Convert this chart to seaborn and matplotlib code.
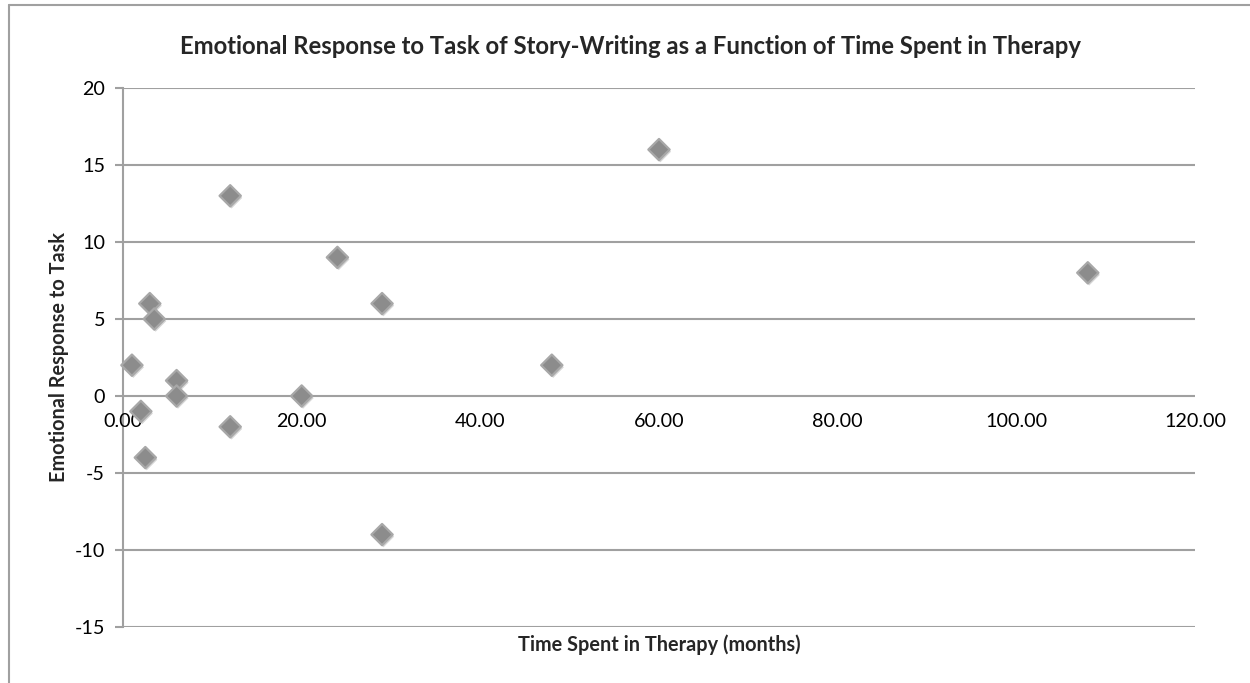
import matplotlib
matplotlib.use("Agg")
import matplotlib.pyplot as plt
import matplotlib.patheffects as pe
import matplotlib.transforms as mtransforms
from matplotlib.lines import Line2D
import seaborn as sns
import pandas as pd

months = [1, 2, 2.5, 3, 3.5, 6, 6, 12, 12, 20, 24, 29, 29, 48, 60, 108]
response = [2, -1, -4, 6, 5, 1, 0, 13, -2, 0, 9, 6, -9, 2, 16, 8]
x_ticks = [0, 20, 40, 60, 80, 100, 120]
y_ticks = [-15, -10, -5, 0, 5, 10, 15, 20]

df = pd.DataFrame({"months": months, "response": response})

sns.set_theme(style="white")
plt.rcParams["font.family"] = ["Lato", "DejaVu Sans"]

fig = plt.figure(figsize=(12.5, 6.83), dpi=100)
ax = fig.add_axes([123 / 1250, 1 - 627 / 683, (1195 - 123) / 1250, (627 - 88) / 683])

grid_c = "#a0a0a0"
tick_fs = 14.2
ax.set_xlim(0, 120)
ax.set_ylim(-15, 20)
ax.set_yticks(y_ticks)
ax.set_xticks(x_ticks)
ax.yaxis.grid(True, color=grid_c, linewidth=1.5)
ax.set_axisbelow(True)
for s in ["top", "right", "bottom"]:
    ax.spines[s].set_visible(False)
ax.spines["left"].set_color(grid_c)
ax.spines["left"].set_linewidth(1.5)
ax.tick_params(axis="y", which="both", left=True, length=6, width=1.5, color=grid_c,
               labelsize=tick_fs, labelcolor="black", pad=7)
ax.tick_params(axis="x", bottom=False, labelbottom=False)
ax.set_yticklabels([str(v) for v in y_ticks])

# x tick labels placed just below the zero line (Excel style axis crossing)
offset = mtransforms.ScaledTranslation(0, -17 / 100, fig.dpi_scale_trans)
for v in x_ticks:
    ax.text(v, 0, f"{v:.2f}", transform=ax.transData + offset, ha="center", va="top",
            fontsize=tick_fs, color="black")

sns.scatterplot(data=df, x="months", y="response", ax=ax, marker="D", s=118,
                color="#8c8c8c", edgecolor="#a8a8a8", linewidth=1.6, zorder=3,
                legend=False)
for coll in ax.collections:
    coll.set_path_effects([pe.SimplePatchShadow(offset=(1, -1.5), shadow_rgbFace="#000000", alpha=0.16),
                           pe.Normal()])
    coll.set_clip_on(False)

ax.set_xlabel("")
ax.set_ylabel("")
fig.text(631 / 1250, 1 - 47 / 683, "Emotional Response to Task of Story-Writing as a Function of Time Spent in Therapy",
         ha="center", va="center", fontsize=17.2, fontweight="bold")
fig.text(659 / 1250, 1 - 645 / 683, "Time Spent in Therapy (months)", ha="center", va="center",
         fontsize=14.3, fontweight="bold")
fig.text(59 / 1250, 1 - 357 / 683, "Emotional Response to Task", ha="center", va="center",
         rotation=90, fontsize=14.3, fontweight="bold")

# chart-area border (visible on left and top in the crop)
fig.add_artist(Line2D([8.5 / 1250, 8.5 / 1250], [0, 1 - 4.5 / 683], transform=fig.transFigure,
                      color="#a0a0a0", linewidth=1.5))
fig.add_artist(Line2D([8.5 / 1250, 1], [1 - 4.5 / 683, 1 - 4.5 / 683], transform=fig.transFigure,
                      color="#a0a0a0", linewidth=1.5))

fig.savefig("out.png", dpi=100, facecolor="white")
